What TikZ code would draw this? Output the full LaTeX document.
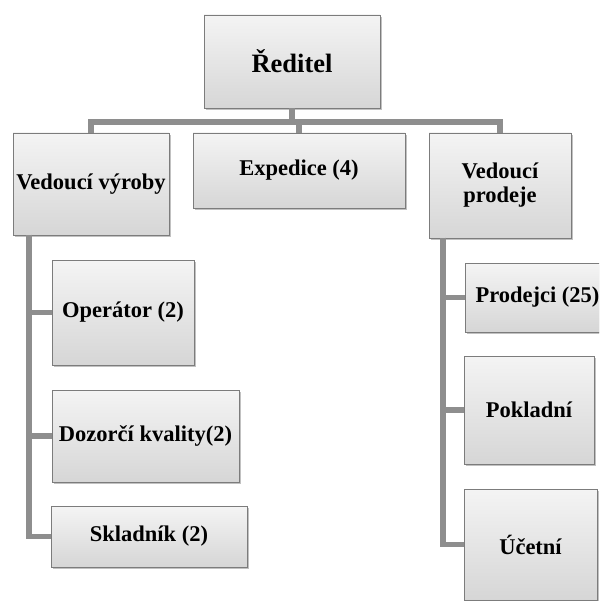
\documentclass[tikz,border=0pt]{standalone}
\usepackage{fontspec}
\setmainfont{Liberation Serif}
\usetikzlibrary{shadows,calc}
\definecolor{boxtop}{HTML}{F4F4F4}
\definecolor{boxbot}{HTML}{D6D6D6}
\definecolor{boxborder}{HTML}{7C7C7C}
\definecolor{linegray}{HTML}{8E8E8E}
\begin{document}
\begin{tikzpicture}[x=1pt,y=-1pt,
  box/.style={draw=boxborder, line width=0.8pt, top color=boxtop, bottom color=boxbot,
    inner sep=0pt, align=center, font=\bfseries\fontsize{22.5}{24}\selectfont,
    drop shadow={shadow xshift=1.5pt, shadow yshift=-2pt, opacity=0.35, fill=black!70}},
  conn/.style={draw=linegray, line width=5.5pt, line join=miter}]
\useasboundingbox (0,0) rectangle (599,601);
\clip (0,0) rectangle (599,601);
\coordinate (bar) at (292,122);
\coordinate (lt) at (29,235);
\coordinate (rt) at (443,238);
% nodes
\node[box, minimum width=176pt, minimum height=93pt, font=\bfseries\fontsize{26.5}{30}\selectfont] (R) at (292,61.5) {Ředitel};
\node[box, minimum width=156pt, minimum height=102pt] (V1) at (91,184) {Vedoucí výroby};
\node[box, minimum width=212pt, minimum height=75pt] (E) at (299,170.5) {Expedice (4)};
\node[box, minimum width=142pt, minimum height=105pt] (V3) at (500,185.5) {Vedoucí\\prodeje};
\node[box, minimum width=142pt, minimum height=105pt] (Op) at (123,312.5) {Operátor (2)};
\node[box, minimum width=187pt, minimum height=92pt] (Dz) at (145.5,436) {Dozorčí kvality(2)};
\node[box, minimum width=196pt, minimum height=61pt] (Sk) at (149,536.5) {Skladník (2)};
\node[box, minimum width=145pt, minimum height=69pt] (Pr) at (537.5,297.5) {Prodejci (25)};
\node[box, minimum width=130pt, minimum height=108pt] (Pk) at (529,410) {Pokladní};
\node[box, minimum width=133pt, minimum height=111pt] (Uc) at (530.5,544.5) {Účetní};
% connectors
\draw[conn] (R.south) -- (bar);
\draw[conn] (bar) -| (V1.north);
\draw[conn] (bar) -| (E.north);
\draw[conn] (bar) -| (V3.north);
\draw[conn] (lt) |- (Op.west);
\draw[conn] (lt) |- (Dz.west);
\draw[conn] (lt) |- (Sk.west);
\draw[conn] (rt) |- (Pr.west);
\draw[conn] (rt) |- (Pk.west);
\draw[conn] (rt) |- (Uc.west);
\end{tikzpicture}
\end{document}
